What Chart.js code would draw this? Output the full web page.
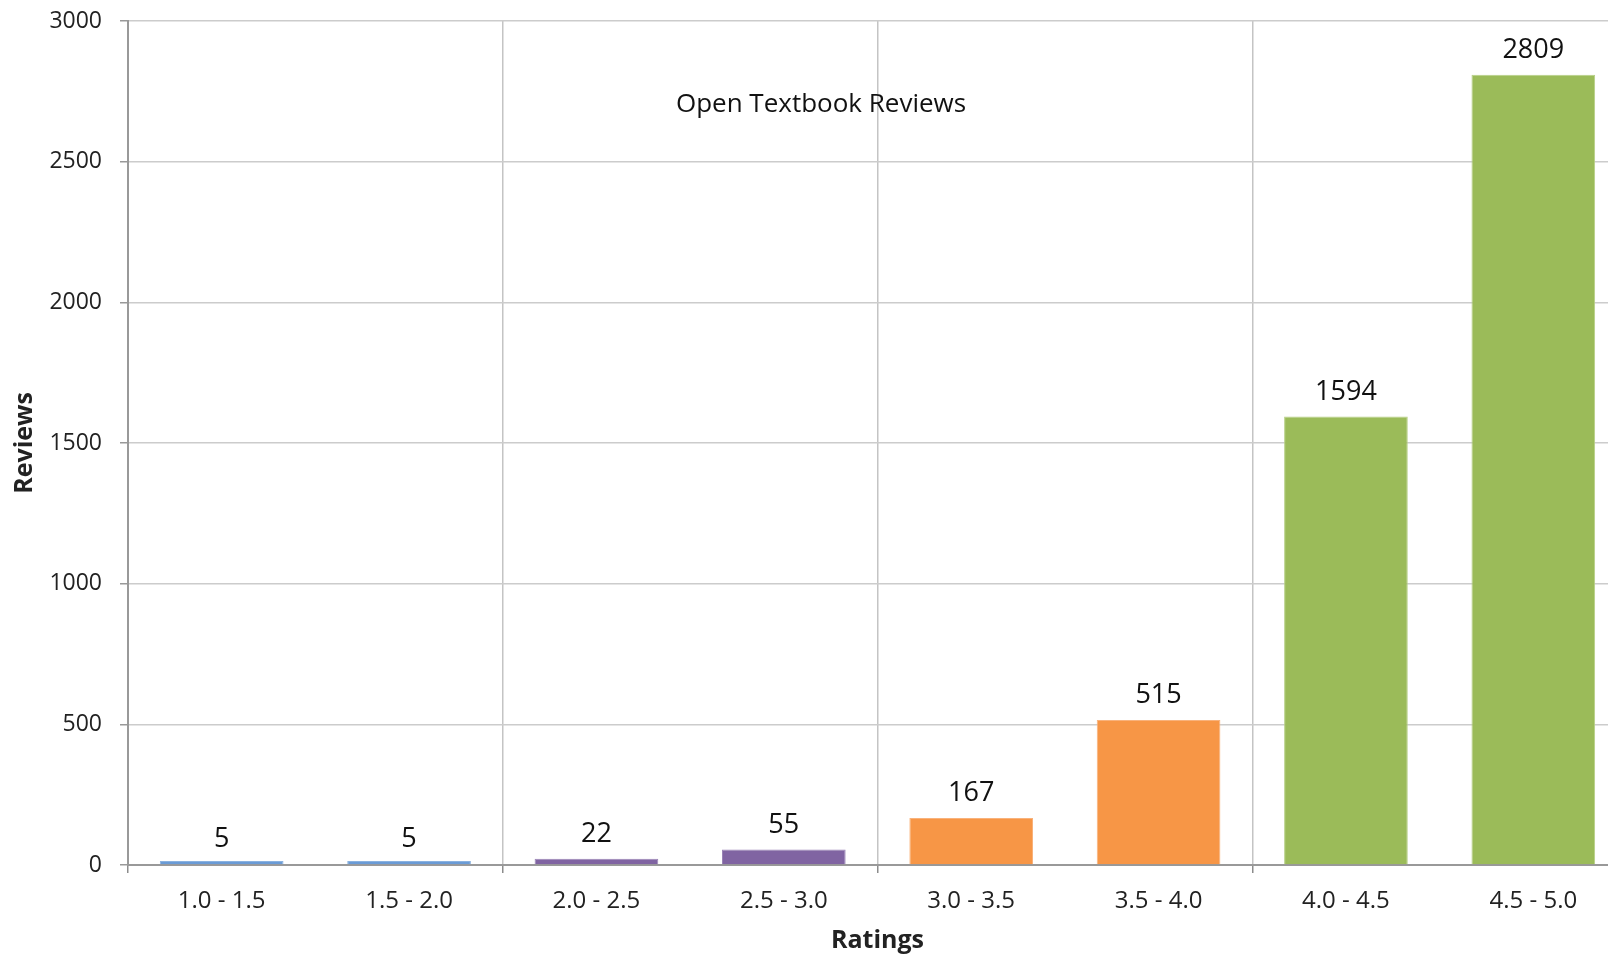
<!DOCTYPE html>
<html>
<head>
<meta charset="utf-8">
<title>Open Textbook Reviews</title>
<script src="https://cdn.jsdelivr.net/npm/chart.js@4"></script>
<style>
    html, body { margin: 0; padding: 0; background: #fff; overflow: hidden; }
    #wrap { width: 1640px; height: 958px; }
</style>
</head>
<body>
<div id="wrap"><canvas id="reviewChart" width="1640" height="958"></canvas></div>
<script>
const ratings = ['1.0 - 1.5', '1.5 - 2.0', '2.0 - 2.5', '2.5 - 3.0', '3.0 - 3.5', '3.5 - 4.0', '4.0 - 4.5', '4.5 - 5.0'];
const reviews = [5, 5, 22, 55, 167, 515, 1594, 2809];
const barColors = ['#6a9bd6', '#6a9bd6', '#8064a2', '#8064a2', '#f79646', '#f79646', '#9bbb59', '#9bbb59'];
const barBorders = ['#8ab2e0', '#8ab2e0', '#9a84b6', '#9a84b6', '#f9b27b', '#f9b27b', '#b6cf85', '#b6cf85'];
const yTicks = [0, 500, 1000, 1500, 2000, 2500, 3000];
const seriesName = 'Open Textbook Reviews';

const fontFamily = '"Open Sans", "DejaVu Sans", sans-serif';

// value labels above each bar + the series caption inside the plot
const labelPlugin = {
    id: 'barLabels',
    afterDatasetsDraw(chart) {
        const ctx = chart.ctx;
        const meta = chart.getDatasetMeta(0);
        const yScale = chart.scales.y;
        ctx.save();
        ctx.fillStyle = '#111';
        ctx.font = '27px ' + fontFamily;
        ctx.textAlign = 'center';
        ctx.textBaseline = 'alphabetic';
        meta.data.forEach((bar, i) => {
            ctx.fillText(String(reviews[i]), bar.x, yScale.getPixelForValue(reviews[i]) - 17);
        });
        const area = chart.chartArea;
        ctx.font = '26px ' + fontFamily;
        ctx.textBaseline = 'middle';
        ctx.fillText(seriesName, area.left + 693, area.top + 84);
        ctx.restore();
    }
};

const ctx = document.getElementById('reviewChart').getContext('2d');
const reviewChart = new Chart(ctx, {
    type: 'bar',
    data: {
        labels: ratings,
        datasets: [{
            label: seriesName,
            data: reviews,
            backgroundColor: barColors,
            borderColor: barBorders,
            borderWidth: 1,
            minBarLength: 4,
            categoryPercentage: 1,
            barPercentage: 0.66
        }]
    },
    options: {
        responsive: false,
        animation: false,
        devicePixelRatio: 1,
        layout: { padding: { left: 0, right: 13, top: 21, bottom: 0 } },
        plugins: {
            legend: { display: false },
            tooltip: { enabled: false }
        },
        scales: {
            x: {
                offset: true,
                grid: {
                    offset: true,
                    color: c => (c.index % 2 === 0 ? '#c4c4c4' : 'rgba(0,0,0,0)'),
                    tickColor: c => (c.index % 2 === 0 ? '#8c8c8c' : 'rgba(0,0,0,0)'),
                    lineWidth: 1.5,
                    tickLength: 8
                },
                border: { color: '#999', width: 2 },
                ticks: {
                    autoSkip: false,
                    maxRotation: 0,
                    padding: 14,
                    color: '#222',
                    font: { family: fontFamily, size: 24 }
                },
                title: {
                    display: true,
                    text: 'Ratings',
                    color: '#222',
                    font: { family: fontFamily, size: 25, weight: 'bold' },
                    padding: { top: 0, bottom: 2 }
                },
                afterFit: scale => { scale.height = 93; }
            },
            y: {
                min: 0,
                max: 3000,
                afterBuildTicks: scale => { scale.ticks = yTicks.map(v => ({ value: v })); },
                grid: {
                    color: '#cccccc',
                    tickColor: '#999',
                    lineWidth: 1.5,
                    tickLength: 8
                },
                border: { color: '#999', width: 2 },
                ticks: {
                    padding: 18,
                    color: '#222',
                    font: { family: fontFamily, size: 23 },
                    callback: v => String(v)
                },
                title: {
                    display: true,
                    text: 'Reviews',
                    color: '#222',
                    font: { family: fontFamily, size: 25, weight: 'bold' },
                    padding: { top: 10, bottom: 0 }
                },
                afterFit: scale => {
                    scale.width = 128;
                    scale.paddingTop = 0;
                    scale.paddingBottom = 0;
                }
            }
        }
    },
    plugins: [labelPlugin]
});
</script>
</body>
</html>
